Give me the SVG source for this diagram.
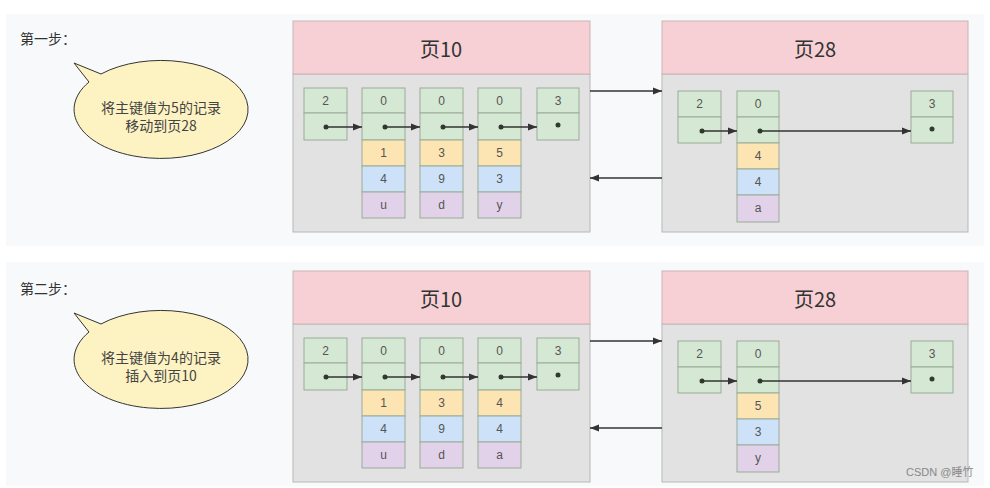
<svg xmlns="http://www.w3.org/2000/svg" width="990" height="488" viewBox="0 0 990 488">
<defs>
<style>
.panel{fill:#f8f9fa;stroke:none}
.hdr{fill:#f6d0d4;stroke:#c9b5b7;stroke-width:1}
.body{fill:#e2e2e2;stroke:#b8b8b8;stroke-width:1}
.g{fill:#d5e8d4;stroke:#9aab98;stroke-width:1}
.y{fill:#fde5b3;stroke:#9aab98;stroke-width:1}
.b{fill:#cde2f9;stroke:#9aab98;stroke-width:1}
.p{fill:#e1d2ea;stroke:#9aab98;stroke-width:1}
.t{font-family:"Liberation Sans","Noto Sans CJK SC",sans-serif;font-size:12px;fill:#555;text-anchor:middle;dominant-baseline:central}
.h{font-family:"Noto Sans CJK SC","Liberation Sans",sans-serif;font-size:20px;fill:#333;text-anchor:middle;dominant-baseline:central}
.lbl{font-family:"Noto Sans CJK SC",sans-serif;font-size:14px;fill:#333}
.bt{font-family:"Noto Sans CJK SC",sans-serif;font-size:14px;fill:#444;text-anchor:middle}
.dot{fill:#2f3b2f}
.ln{stroke:#333;stroke-width:1.3;fill:none;marker-end:url(#arr)}
.bub{fill:#fdf3c2;stroke:#333;stroke-width:1}
.wm{font-family:"Liberation Sans","Noto Sans CJK SC",sans-serif;font-size:11px;fill:#888}
</style>
<marker id="arr" markerWidth="10" markerHeight="8" refX="9" refY="4" orient="auto" markerUnits="userSpaceOnUse">
<path d="M0,0.5 L9,4 L0,7.5 Z" fill="#333"/>
</marker>
</defs>
<rect width="990" height="488" fill="#ffffff"/>
<rect class="panel" x="6" y="14" width="978" height="232"/>
<rect class="panel" x="6" y="262" width="978" height="224"/>

<!-- STEP 1 -->
<g id="step1-label"><text class="lbl" x="20" y="44">第一步：</text></g>
<g id="bubble1">
<path class="bub" d="M74,63 L101,74 A87,49 0 1 1 89,82 Z"/>
<text class="bt" x="161" y="113">将主键值为5的记录</text>
<text class="bt" x="161" y="131">移动到页28</text>
</g>

<g id="page10-a">
<rect class="body" x="293" y="74" width="297" height="158"/>
<rect class="hdr" x="293" y="21" width="297" height="53"/>
<text class="h" x="441" y="48">页10</text>
<g id="p10a-r1"><rect class="g" x="304" y="88" width="43" height="25"/><rect class="g" x="304" y="113" width="43" height="27"/><text class="t" x="325.5" y="101">2</text><circle class="dot" cx="326" cy="127" r="2.5"/></g>
<g id="p10a-r2"><rect class="g" x="362" y="88" width="43" height="25"/><rect class="g" x="362" y="113" width="43" height="27"/><rect class="y" x="362" y="140" width="43" height="26"/><rect class="b" x="362" y="166" width="43" height="26"/><rect class="p" x="362" y="192" width="43" height="26"/><text class="t" x="383.5" y="101">0</text><circle class="dot" cx="385" cy="127" r="2.5"/><text class="t" x="383.5" y="153">1</text><text class="t" x="383.5" y="179">4</text><text class="t" x="383.5" y="205">u</text></g>
<g id="p10a-r3"><rect class="g" x="420" y="88" width="43" height="25"/><rect class="g" x="420" y="113" width="43" height="27"/><rect class="y" x="420" y="140" width="43" height="26"/><rect class="b" x="420" y="166" width="43" height="26"/><rect class="p" x="420" y="192" width="43" height="26"/><text class="t" x="441.5" y="101">0</text><circle class="dot" cx="443" cy="127" r="2.5"/><text class="t" x="441.5" y="153">3</text><text class="t" x="441.5" y="179">9</text><text class="t" x="441.5" y="205">d</text></g>
<g id="p10a-r4"><rect class="g" x="478" y="88" width="43" height="25"/><rect class="g" x="478" y="113" width="43" height="27"/><rect class="y" x="478" y="140" width="43" height="26"/><rect class="b" x="478" y="166" width="43" height="26"/><rect class="p" x="478" y="192" width="43" height="26"/><text class="t" x="499.5" y="101">0</text><circle class="dot" cx="501" cy="127" r="2.5"/><text class="t" x="499.5" y="153">5</text><text class="t" x="499.5" y="179">3</text><text class="t" x="499.5" y="205">y</text></g>
<g id="p10a-r5"><rect class="g" x="537" y="88" width="42" height="25"/><rect class="g" x="537" y="113" width="42" height="27"/><text class="t" x="558" y="101">3</text><circle class="dot" cx="558" cy="125" r="2.5"/></g>
</g>

<g id="page28-a">
<rect class="body" x="662" y="74" width="306" height="158"/>
<rect class="hdr" x="662" y="21" width="306" height="53"/>
<text class="h" x="815" y="48">页28</text>
<g id="p28a-r1"><rect class="g" x="678" y="91" width="43" height="26"/><rect class="g" x="678" y="117" width="43" height="26"/><text class="t" x="699.5" y="104">2</text><circle class="dot" cx="702" cy="131" r="2.5"/></g>
<g id="p28a-r2"><rect class="g" x="737" y="91" width="42" height="26"/><rect class="g" x="737" y="117" width="42" height="26"/><rect class="y" x="737" y="143" width="42" height="26"/><rect class="b" x="737" y="169" width="42" height="26"/><rect class="p" x="737" y="195" width="42" height="27"/><text class="t" x="758" y="104">0</text><circle class="dot" cx="760" cy="131" r="2.5"/><text class="t" x="758" y="156">4</text><text class="t" x="758" y="182">4</text><text class="t" x="758" y="208">a</text></g>
<g id="p28a-r3"><rect class="g" x="911" y="91" width="42" height="26"/><rect class="g" x="911" y="117" width="42" height="26"/><text class="t" x="932" y="104">3</text><circle class="dot" cx="932" cy="129" r="2.5"/></g>
</g>

<!-- STEP 2 -->
<g id="step2-label"><text class="lbl" x="20" y="294">第二步：</text></g>
<g id="bubble2">
<path class="bub" d="M74,313 L101,324 A87,49 0 1 1 89,332 Z"/>
<text class="bt" x="161" y="363">将主键值为4的记录</text>
<text class="bt" x="161" y="381">插入到页10</text>
</g>

<g id="page10-b">
<rect class="body" x="293" y="324" width="297" height="158"/>
<rect class="hdr" x="293" y="271" width="297" height="53"/>
<text class="h" x="441" y="298">页10</text>
<g id="p10b-r1"><rect class="g" x="304" y="338" width="43" height="25"/><rect class="g" x="304" y="363" width="43" height="27"/><text class="t" x="325.5" y="351">2</text><circle class="dot" cx="326" cy="377" r="2.5"/></g>
<g id="p10b-r2"><rect class="g" x="362" y="338" width="43" height="25"/><rect class="g" x="362" y="363" width="43" height="27"/><rect class="y" x="362" y="390" width="43" height="26"/><rect class="b" x="362" y="416" width="43" height="26"/><rect class="p" x="362" y="442" width="43" height="26"/><text class="t" x="383.5" y="351">0</text><circle class="dot" cx="385" cy="377" r="2.5"/><text class="t" x="383.5" y="403">1</text><text class="t" x="383.5" y="429">4</text><text class="t" x="383.5" y="455">u</text></g>
<g id="p10b-r3"><rect class="g" x="420" y="338" width="43" height="25"/><rect class="g" x="420" y="363" width="43" height="27"/><rect class="y" x="420" y="390" width="43" height="26"/><rect class="b" x="420" y="416" width="43" height="26"/><rect class="p" x="420" y="442" width="43" height="26"/><text class="t" x="441.5" y="351">0</text><circle class="dot" cx="443" cy="377" r="2.5"/><text class="t" x="441.5" y="403">3</text><text class="t" x="441.5" y="429">9</text><text class="t" x="441.5" y="455">d</text></g>
<g id="p10b-r4"><rect class="g" x="478" y="338" width="43" height="25"/><rect class="g" x="478" y="363" width="43" height="27"/><rect class="y" x="478" y="390" width="43" height="26"/><rect class="b" x="478" y="416" width="43" height="26"/><rect class="p" x="478" y="442" width="43" height="26"/><text class="t" x="499.5" y="351">0</text><circle class="dot" cx="501" cy="377" r="2.5"/><text class="t" x="499.5" y="403">4</text><text class="t" x="499.5" y="429">4</text><text class="t" x="499.5" y="455">a</text></g>
<g id="p10b-r5"><rect class="g" x="537" y="338" width="42" height="25"/><rect class="g" x="537" y="363" width="42" height="27"/><text class="t" x="558" y="351">3</text><circle class="dot" cx="558" cy="375" r="2.5"/></g>
</g>

<g id="page28-b">
<rect class="body" x="662" y="324" width="306" height="158"/>
<rect class="hdr" x="662" y="271" width="306" height="53"/>
<text class="h" x="815" y="298">页28</text>
<g id="p28b-r1"><rect class="g" x="678" y="341" width="43" height="26"/><rect class="g" x="678" y="367" width="43" height="26"/><text class="t" x="699.5" y="354">2</text><circle class="dot" cx="702" cy="381" r="2.5"/></g>
<g id="p28b-r2"><rect class="g" x="737" y="341" width="42" height="26"/><rect class="g" x="737" y="367" width="42" height="26"/><rect class="y" x="737" y="393" width="42" height="26"/><rect class="b" x="737" y="419" width="42" height="26"/><rect class="p" x="737" y="445" width="42" height="27"/><text class="t" x="758" y="354">0</text><circle class="dot" cx="760" cy="381" r="2.5"/><text class="t" x="758" y="406">5</text><text class="t" x="758" y="432">3</text><text class="t" x="758" y="458">y</text></g>
<g id="p28b-r3"><rect class="g" x="911" y="341" width="42" height="26"/><rect class="g" x="911" y="367" width="42" height="26"/><text class="t" x="932" y="354">3</text><circle class="dot" cx="932" cy="379" r="2.5"/></g>
</g>

<g id="connectors">
<line class="ln" x1="326" y1="127" x2="362" y2="127"/>
<line class="ln" x1="385" y1="127" x2="420" y2="127"/>
<line class="ln" x1="443" y1="127" x2="478" y2="127"/>
<line class="ln" x1="501" y1="127" x2="537" y2="127"/>
<line class="ln" x1="590" y1="91" x2="662" y2="91"/>
<line class="ln" x1="662" y1="178" x2="590" y2="178"/>
<line class="ln" x1="702" y1="131" x2="737" y2="131"/>
<line class="ln" x1="760" y1="131" x2="911" y2="131"/>

<line class="ln" x1="326" y1="377" x2="362" y2="377"/>
<line class="ln" x1="385" y1="377" x2="420" y2="377"/>
<line class="ln" x1="443" y1="377" x2="478" y2="377"/>
<line class="ln" x1="501" y1="377" x2="537" y2="377"/>
<line class="ln" x1="590" y1="341" x2="662" y2="341"/>
<line class="ln" x1="662" y1="428" x2="590" y2="428"/>
<line class="ln" x1="702" y1="381" x2="737" y2="381"/>
<line class="ln" x1="760" y1="381" x2="911" y2="381"/>
</g>

<text class="wm" x="906" y="476">CSDN @睡竹</text>
</svg>
